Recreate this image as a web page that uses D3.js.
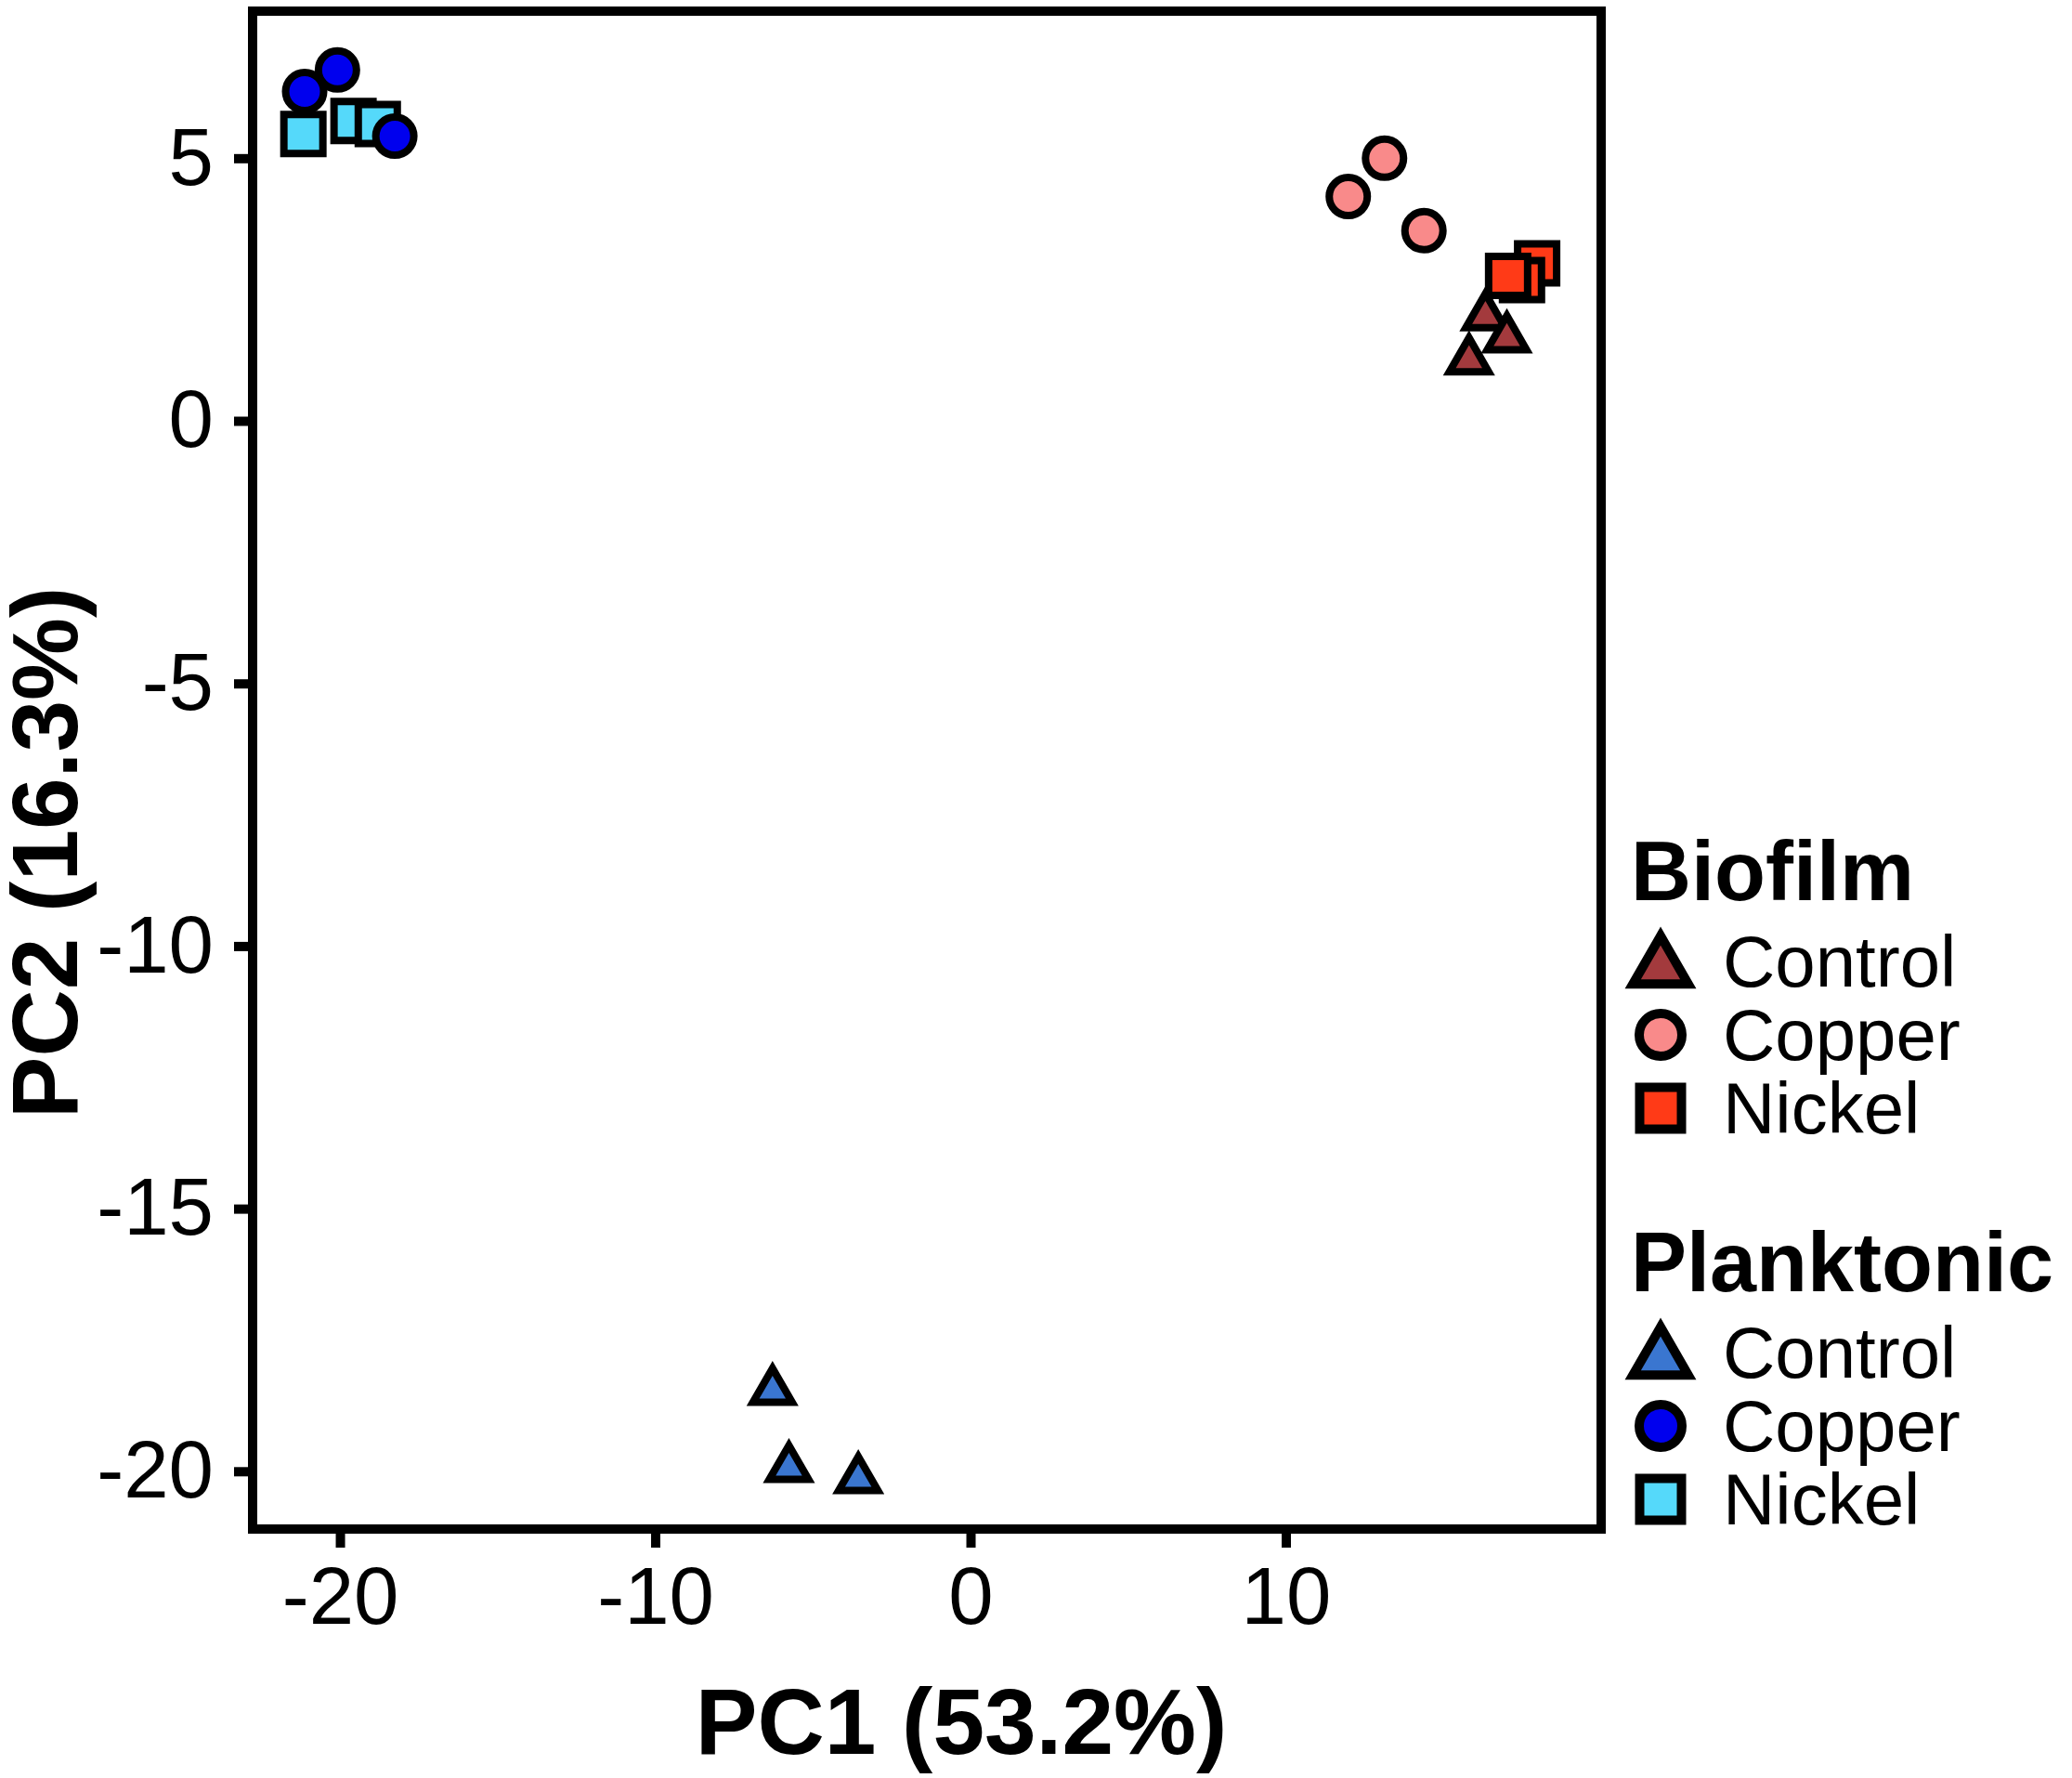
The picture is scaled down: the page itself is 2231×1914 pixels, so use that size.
<!DOCTYPE html>
<html>
<head>
<meta charset="utf-8">
<script src="https://cdn.jsdelivr.net/npm/d3@7"></script>
<style>
  body { margin: 0; background: #fff; }
  text { font-family: "Liberation Sans", Arial, Helvetica, sans-serif; fill: #000; }
</style>
</head>
<body>
<svg id="chart"></svg>
<script>
// PCA scores (three replicates per group)
const biofilmControlPC1 = [16.33, 17.01, 15.81];
const biofilmControlPC2 = [1.99, 1.57, 1.15];
const biofilmCopperPC1 = [11.98, 13.13, 14.38];
const biofilmCopperPC2 = [4.27, 5.00, 3.62];
const biofilmNickelPC1 = [17.97, 17.49, 17.05];
const biofilmNickelPC2 = [3.00, 2.68, 2.76];

const planktonicControlPC1 = [-6.28, -5.76, -3.56];
const planktonicControlPC2 = [-18.47, -19.94, -20.15];
const planktonicCopperPC1 = [-21.12, -20.08, -18.26];
const planktonicCopperPC2 = [6.27, 6.68, 5.42];
const planktonicNickelPC1 = [-21.16, -19.57, -18.80];
const planktonicNickelPC2 = [5.46, 5.71, 5.65];

const habitats = ["Biofilm", "Planktonic"];
const treatments = ["Control", "Copper", "Nickel"];
const xTicks = [-20, -10, 0, 10];
const yTicks = [5, 0, -5, -10, -15, -20];
const xTitle = "PC1 (53.2%)";
const yTitle = "PC2 (16.3%)";

const fills = {
  Biofilm: { Control: "#a33a3d", Copper: "#f98a8a", Nickel: "#ff3a17" },
  Planktonic: { Control: "#3a76d0", Copper: "#0000ee", Nickel: "#55d9fa" }
};
const shapes = { Control: d3.symbolTriangle, Copper: d3.symbolCircle, Nickel: d3.symbolSquare };
const pointSize = { Control: 773, Copper: 1320, Nickel: 1764 };
const keySize = { Control: 1537, Copper: 1662, Nickel: 2025 };

const scores = {
  Biofilm: {
    Control: [biofilmControlPC1, biofilmControlPC2],
    Copper: [biofilmCopperPC1, biofilmCopperPC2],
    Nickel: [biofilmNickelPC1, biofilmNickelPC2]
  },
  Planktonic: {
    Control: [planktonicControlPC1, planktonicControlPC2],
    Copper: [planktonicCopperPC1, planktonicCopperPC2],
    Nickel: [planktonicNickelPC1, planktonicNickelPC2]
  }
};

// flatten; nickel drawn before copper so the circles sit on top
let points = [];
habitats.forEach(function(h) {
  ["Control", "Nickel", "Copper"].forEach(function(t) {
    scores[h][t][0].forEach(function(v, i) {
      points.push({ habitat: h, treatment: t, pc1: v, pc2: scores[h][t][1][i] });
    });
  });
});

const width = 2231, height = 1914;
const panel = { left: 272, right: 1724, top: 12, bottom: 1646 };

const svg = d3.select("#chart").attr("width", width).attr("height", height);

const x = d3.scaleLinear().domain([-22.77, 20.0]).range([panel.left, panel.right]);
const y = d3.scaleLinear().domain([-21.1, 7.8]).range([panel.bottom, panel.top]);

// plain hyphen for negatives, like the original
const plain = function(d) { return String(d); };

// axes
const xAxis = svg.append("g")
  .attr("transform", "translate(0," + panel.bottom + ")")
  .call(d3.axisBottom(x).tickValues(xTicks).tickSize(20).tickPadding(20).tickFormat(plain));
const yAxis = svg.append("g")
  .attr("transform", "translate(" + panel.left + ",0)")
  .call(d3.axisLeft(y).tickValues(yTicks).tickSize(20).tickPadding(22).tickFormat(plain));

[xAxis, yAxis].forEach(function(a) {
  a.select(".domain").remove();
  a.selectAll(".tick line").attr("stroke", "#000").attr("stroke-width", 10);
  a.selectAll(".tick text")
    .style("font-family", "'Liberation Sans', Arial, sans-serif")
    .style("font-size", "87px")
    .attr("fill", "#000");
});

// points
svg.append("g").selectAll("path")
  .data(points)
  .join("path")
  .attr("transform", function(d) { return "translate(" + x(d.pc1) + "," + y(d.pc2) + ")"; })
  .attr("d", function(d) { return d3.symbol().type(shapes[d.treatment]).size(pointSize[d.treatment])(); })
  .attr("fill", function(d) { return fills[d.habitat][d.treatment]; })
  .attr("stroke", "#000")
  .attr("stroke-width", 8);

// panel border
svg.append("rect")
  .attr("x", panel.left).attr("y", panel.top)
  .attr("width", panel.right - panel.left).attr("height", panel.bottom - panel.top)
  .attr("fill", "none").attr("stroke", "#000").attr("stroke-width", 10);

// axis titles
svg.append("text")
  .attr("x", 1035).attr("y", 1888)
  .attr("text-anchor", "middle")
  .style("font-size", "100px").style("font-weight", "bold")
  .text(xTitle);
svg.append("text")
  .attr("transform", "translate(83,918) rotate(-90)")
  .attr("text-anchor", "middle")
  .style("font-size", "100px").style("font-weight", "bold")
  .text(yTitle);

// legends
const legendTop = { Biofilm: 969, Planktonic: 1390 };
habitats.forEach(function(h) {
  let lg = svg.append("g").attr("transform", "translate(0," + legendTop[h] + ")");
  lg.append("text")
    .attr("x", 1756).attr("y", 0)
    .style("font-size", "90px").style("font-weight", "bold")
    .text(h);
  treatments.forEach(function(t, i) {
    let base = 93 + i * 79;
    let cy = base - 27 + (t === "Control" ? 7 : 0);
    lg.append("path")
      .attr("transform", "translate(1788," + cy + ")")
      .attr("d", d3.symbol().type(shapes[t]).size(keySize[t])())
      .attr("fill", fills[h][t])
      .attr("stroke", "#000")
      .attr("stroke-width", 10);
    lg.append("text")
      .attr("x", 1855).attr("y", base)
      .style("font-size", "78px")
      .text(t);
  });
});
</script>
</body>
</html>
